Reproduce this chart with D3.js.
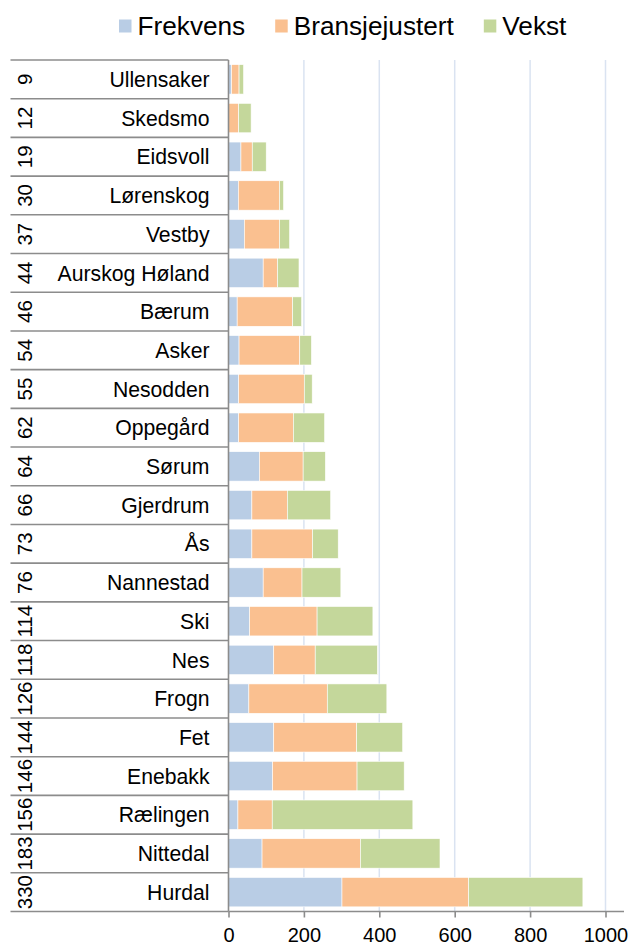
<!DOCTYPE html>
<html>
<head>
<meta charset="utf-8">
<script src="https://cdn.jsdelivr.net/npm/d3@7"></script>
<style>
  body { margin: 0; background: #fff; }
  text { font-family: "Liberation Sans", Arial, sans-serif; fill: #000; }
</style>
</head>
<body>
<script>
// Data
let ranks = [9, 12, 19, 30, 37, 44, 46, 54, 55, 62, 64, 66, 73, 76, 114, 118, 126, 144, 146, 156, 183, 330];
let names = ["Ullensaker", "Skedsmo", "Eidsvoll", "Lørenskog", "Vestby", "Aurskog Høland", "Bærum", "Asker",
  "Nesodden", "Oppegård", "Sørum", "Gjerdrum", "Ås", "Nannestad", "Ski", "Nes", "Frogn", "Fet", "Enebakk",
  "Rælingen", "Nittedal", "Hurdal"];
let frekvens = [8, 0, 33, 26, 42, 92, 23, 28, 27, 27, 82, 62, 62, 92, 56, 120, 54, 120, 117, 25, 89, 301];
let bransjejustert = [20, 27, 30, 109, 93, 38, 147, 161, 174, 145, 116, 94, 161, 103, 179, 110, 208, 220, 224, 91, 261, 336];
let vekst = [12, 33, 37, 11, 27, 57, 24, 31, 21, 83, 59, 115, 68, 103, 148, 165, 158, 122, 125, 373, 211, 303];
let seriesNames = ["Frekvens", "Bransjejustert", "Vekst"];
let seriesColors = ["#b9cde5", "#fac090", "#c4d79b"];
let xTicks = [0, 200, 400, 600, 800, 1000];

// Define dimensions
let width = 630;
let height = 946;
let margin = { top: 60, bottom: 34.5, left: 228.5, right: 24 };

let svg = d3
  .select("body")
  .append("svg")
  .attr("width", width)
  .attr("height", height);

// Build rows for the stack
let rows = names.map((n, i) => ({
  name: n,
  rank: ranks[i],
  Frekvens: frekvens[i],
  Bransjejustert: bransjejustert[i],
  Vekst: vekst[i],
}));

let stacked = d3.stack().keys(seriesNames)(rows);

// Scales
let xScale = d3.scaleLinear().domain([0, 1000]).range([margin.left, 605.5]);

let yScale = d3
  .scaleBand()
  .domain(names)
  .range([margin.top, height - margin.bottom])
  .paddingInner(0.24)
  .paddingOuter(0.12);

let colorScale = d3.scaleOrdinal().domain(seriesNames).range(seriesColors);

let plotTop = margin.top;
let plotBottom = height - margin.bottom;
let step = yScale.step();

// Gridlines
svg
  .append("g")
  .selectAll("line")
  .data(xTicks.slice(1))
  .join("line")
  .attr("x1", (d) => xScale(d))
  .attr("x2", (d) => xScale(d))
  .attr("y1", plotTop)
  .attr("y2", plotBottom)
  .attr("stroke", "#dae3f1")
  .attr("stroke-width", 1.5);

// Stacked bars
svg
  .append("g")
  .selectAll("g")
  .data(stacked)
  .join("g")
  .attr("fill", (d) => colorScale(d.key))
  .selectAll("rect")
  .data((d) => d)
  .join("rect")
  .attr("x", (d) => xScale(d[0]))
  .attr("y", (d) => yScale(d.data.name))
  .attr("width", (d) => xScale(d[1]) - xScale(d[0]))
  .attr("height", yScale.bandwidth())
  .attr("stroke", "#fff")
  .attr("stroke-width", 0.6);

// Category box lines (row separators)
let boundaries = d3.range(names.length + 1).map((i) => plotTop + i * step);
svg
  .append("g")
  .selectAll("line")
  .data(boundaries)
  .join("line")
  .attr("x1", 10.5)
  .attr("x2", margin.left)
  .attr("y1", (d) => d)
  .attr("y2", (d) => d)
  .attr("stroke", "#8c8c8c")
  .attr("stroke-width", 1.6);

// Left axis line
svg
  .append("line")
  .attr("x1", margin.left)
  .attr("x2", margin.left)
  .attr("y1", plotTop)
  .attr("y2", plotBottom)
  .attr("stroke", "#8c8c8c")
  .attr("stroke-width", 1.6);

// Bottom axis
let xAxis = svg
  .append("g")
  .attr("transform", `translate(0, ${plotBottom})`)
  .call(
    d3
      .axisBottom(xScale)
      .tickValues(xTicks)
      .tickFormat(d3.format("d"))
      .tickSize(6)
      .tickPadding(10)
      .tickSizeOuter(0),
  );

xAxis.select(".domain").remove();
xAxis
  .append("line")
  .attr("x1", margin.left)
  .attr("x2", 624)
  .attr("stroke", "#8c8c8c")
  .attr("stroke-width", 1.6);
xAxis.selectAll(".tick line").attr("stroke", "#8c8c8c").attr("stroke-width", 1.6);
xAxis
  .selectAll(".tick text")
  .style("font-size", "20px")
  .style("font-family", "'Liberation Sans', Arial, sans-serif")
  .attr("fill", "#000");

// Municipality names
svg
  .append("g")
  .selectAll("text")
  .data(rows)
  .join("text")
  .attr("x", 209.5)
  .attr("y", (d) => yScale(d.name) + yScale.bandwidth() / 2)
  .attr("dy", "0.36em")
  .style("text-anchor", "end")
  .style("font-size", "21.2px")
  .text((d) => d.name);

// Rank numbers (rotated)
svg
  .append("g")
  .selectAll("text")
  .data(rows)
  .join("text")
  .attr("transform", (d) => `translate(24.5, ${yScale(d.name) + yScale.bandwidth() / 2}) rotate(-90)`)
  .attr("dy", "0.36em")
  .style("text-anchor", "middle")
  .style("font-size", "20.5px")
  .text((d) => d.rank);

// Legend
let legend = svg.append("g");
let lx = 119;
seriesNames.forEach((s, i) => {
  legend
    .append("rect")
    .attr("x", lx)
    .attr("y", 19.5)
    .attr("width", 12.5)
    .attr("height", 13)
    .attr("fill", colorScale(s));
  let t = legend
    .append("text")
    .attr("x", lx + 18.5)
    .attr("y", 35)
    .style("font-size", "26.2px")
    .text(s);
  lx += 18.5 + t.node().getComputedTextLength() + 30;
});
</script>
</body>
</html>
